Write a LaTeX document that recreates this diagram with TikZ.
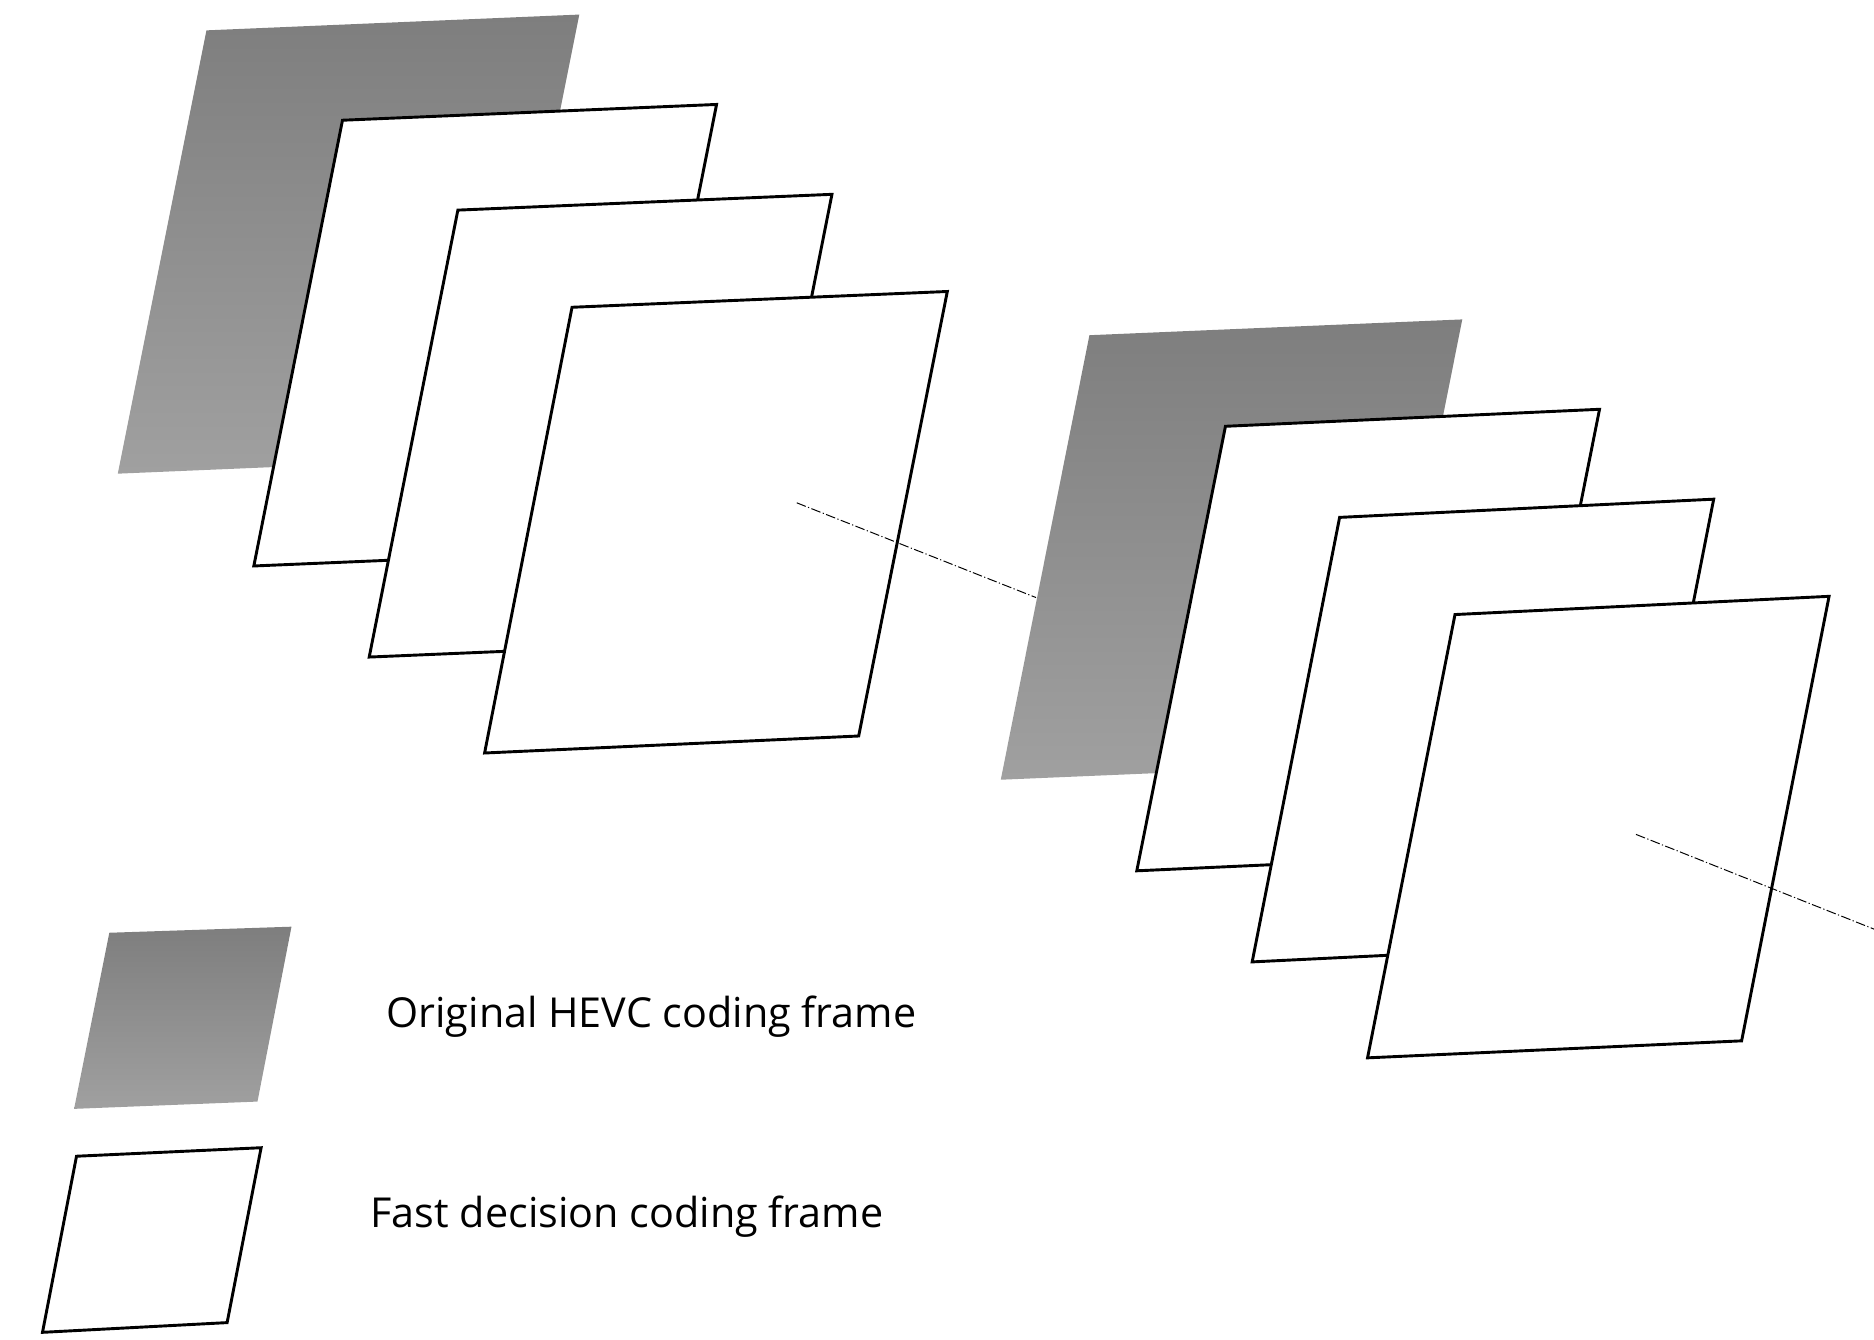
\documentclass[tikz,border=0pt]{standalone}
\usepackage{fontspec}
\setmainfont{Open Sans}
\definecolor{gtop}{RGB}{126,126,126}
\definecolor{gbot}{RGB}{160,160,160}
\begin{document}
\begin{tikzpicture}[x=1pt,y=-1pt,
  frame/.style={draw=black,line width=2.4pt,fill=white,line join=miter},
  gframe/.style={top color=gtop,bottom color=gbot,draw=none},
  axis/.style={line width=0.8pt,dash pattern=on 8pt off 2pt on 1pt off 2pt},
  lbl/.style={anchor=west,font=\fontsize{34}{40}\selectfont,inner sep=0pt}]
\useasboundingbox (0,0) rectangle (1543,1103);
% group 1
\path[gframe] (170,25) -- (477,12) -- (404,377) -- (97,390) -- cycle;
\draw[frame] (282,99) -- (590,86) -- (517,453) -- (209,466) -- cycle;
\draw[frame] (377,173) -- (685,160) -- (612,528) -- (304,541) -- cycle;
\draw[frame] (471,253) -- (780,240) -- (707,606) -- (399,620) -- cycle;
\coordinate (a1) at (656,414); \coordinate (a2) at (853,492);
\draw[axis] (a1) -- (a2);
% group 2
\path[gframe] (897,276) -- (1204,263) -- (1131,629) -- (824,642) -- cycle;
\draw[frame] (1009,351) -- (1317,337) -- (1244,703) -- (936,717) -- cycle;
\draw[frame] (1103,426) -- (1411,411) -- (1339,777) -- (1031,792) -- cycle;
\draw[frame] (1198,506) -- (1506,491) -- (1434,857) -- (1126,871) -- cycle;
\coordinate (b1) at (1347,687); \coordinate (b2) at (1543,765);
\draw[axis] (b1) -- (b2);
% legend
\path[gframe] (90,768) -- (240,763) -- (212,907) -- (61,913) -- cycle;
\draw[frame] (63,952) -- (215,945) -- (187,1089) -- (35,1097) -- cycle;
\node[lbl] (t1) at (318,837) {Original HEVC coding frame};
\node[lbl] (t2) at (305,1002) {Fast decision coding frame};
\end{tikzpicture}
\end{document}
